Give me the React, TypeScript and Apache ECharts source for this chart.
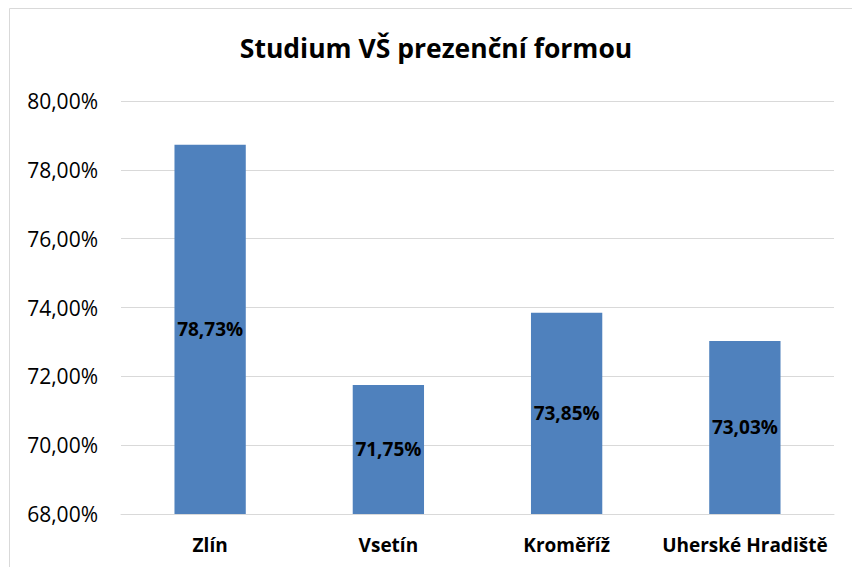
import React, { useEffect, useRef } from "react";
import * as echarts from "echarts";

const categories = ["Zlín", "Vsetín", "Kroměříž", "Uherské Hradiště"];
const values = [78.73, 71.75, 73.85, 73.03];
const yMin = 68;
const yMax = 80;
const yStep = 2;
const titleText = "Studium VŠ prezenční formou";

const fmt = (v: number) => v.toFixed(2).replace(".", ",") + "%";
const FONT = "'Open Sans', 'Noto Sans', sans-serif";

export default function App() {
  const ref = useRef<HTMLDivElement>(null);
  useEffect(() => {
    if (!ref.current) return;
    const chart = echarts.init(ref.current, null, { renderer: "svg" });
    chart.setOption({
      animation: false,
      backgroundColor: "#ffffff",
      graphic: [
        {
          type: "rect",
          shape: { x: 9.5, y: 8.5, width: 900, height: 600 },
          style: { fill: "none", stroke: "#d9d9d9", lineWidth: 1 },
          silent: true,
          z: -1,
        },
        {
          type: "text",
          x: 436,
          y: 48,
          style: {
            text: titleText,
            fontFamily: FONT,
            fontSize: 26.5,
            fontWeight: "bold",
            fill: "#000",
            textAlign: "center",
            textVerticalAlign: "middle",
          },
          silent: true,
        },
      ],
      grid: { left: 121, right: 18, top: 101, bottom: 53 },
      xAxis: {
        type: "category",
        data: categories,
        axisLine: { show: true, lineStyle: { color: "#d9d9d9" } },
        axisTick: { show: false },
        axisLabel: {
          interval: 0,
          fontFamily: FONT,
          fontSize: 19,
          fontWeight: "bold",
          color: "#000",
          margin: 21,
        },
      },
      yAxis: {
        type: "value",
        min: yMin,
        max: yMax,
        interval: yStep,
        axisLine: { show: false },
        axisTick: { show: false },
        splitLine: { lineStyle: { color: "#d9d9d9", width: 1 } },
        axisLabel: {
          fontFamily: FONT,
          fontSize: 21,
          color: "#000",
          margin: 23,
          formatter: (v: number) => fmt(v),
        },
      },
      series: [
        {
          type: "bar",
          data: values,
          barWidth: "40%",
          itemStyle: { color: "#4f81bd" },
          label: {
            show: true,
            position: "inside",
            fontFamily: FONT,
            fontSize: 19,
            fontWeight: "bold",
            color: "#000",
            formatter: (p: any) => fmt(p.value),
          },
        },
      ],
    });
    return () => chart.dispose();
  }, []);
  return (
    <div
      ref={ref}
      style={{ position: "fixed", left: 0, top: 0, width: 852, height: 567 }}
    />
  );
}
